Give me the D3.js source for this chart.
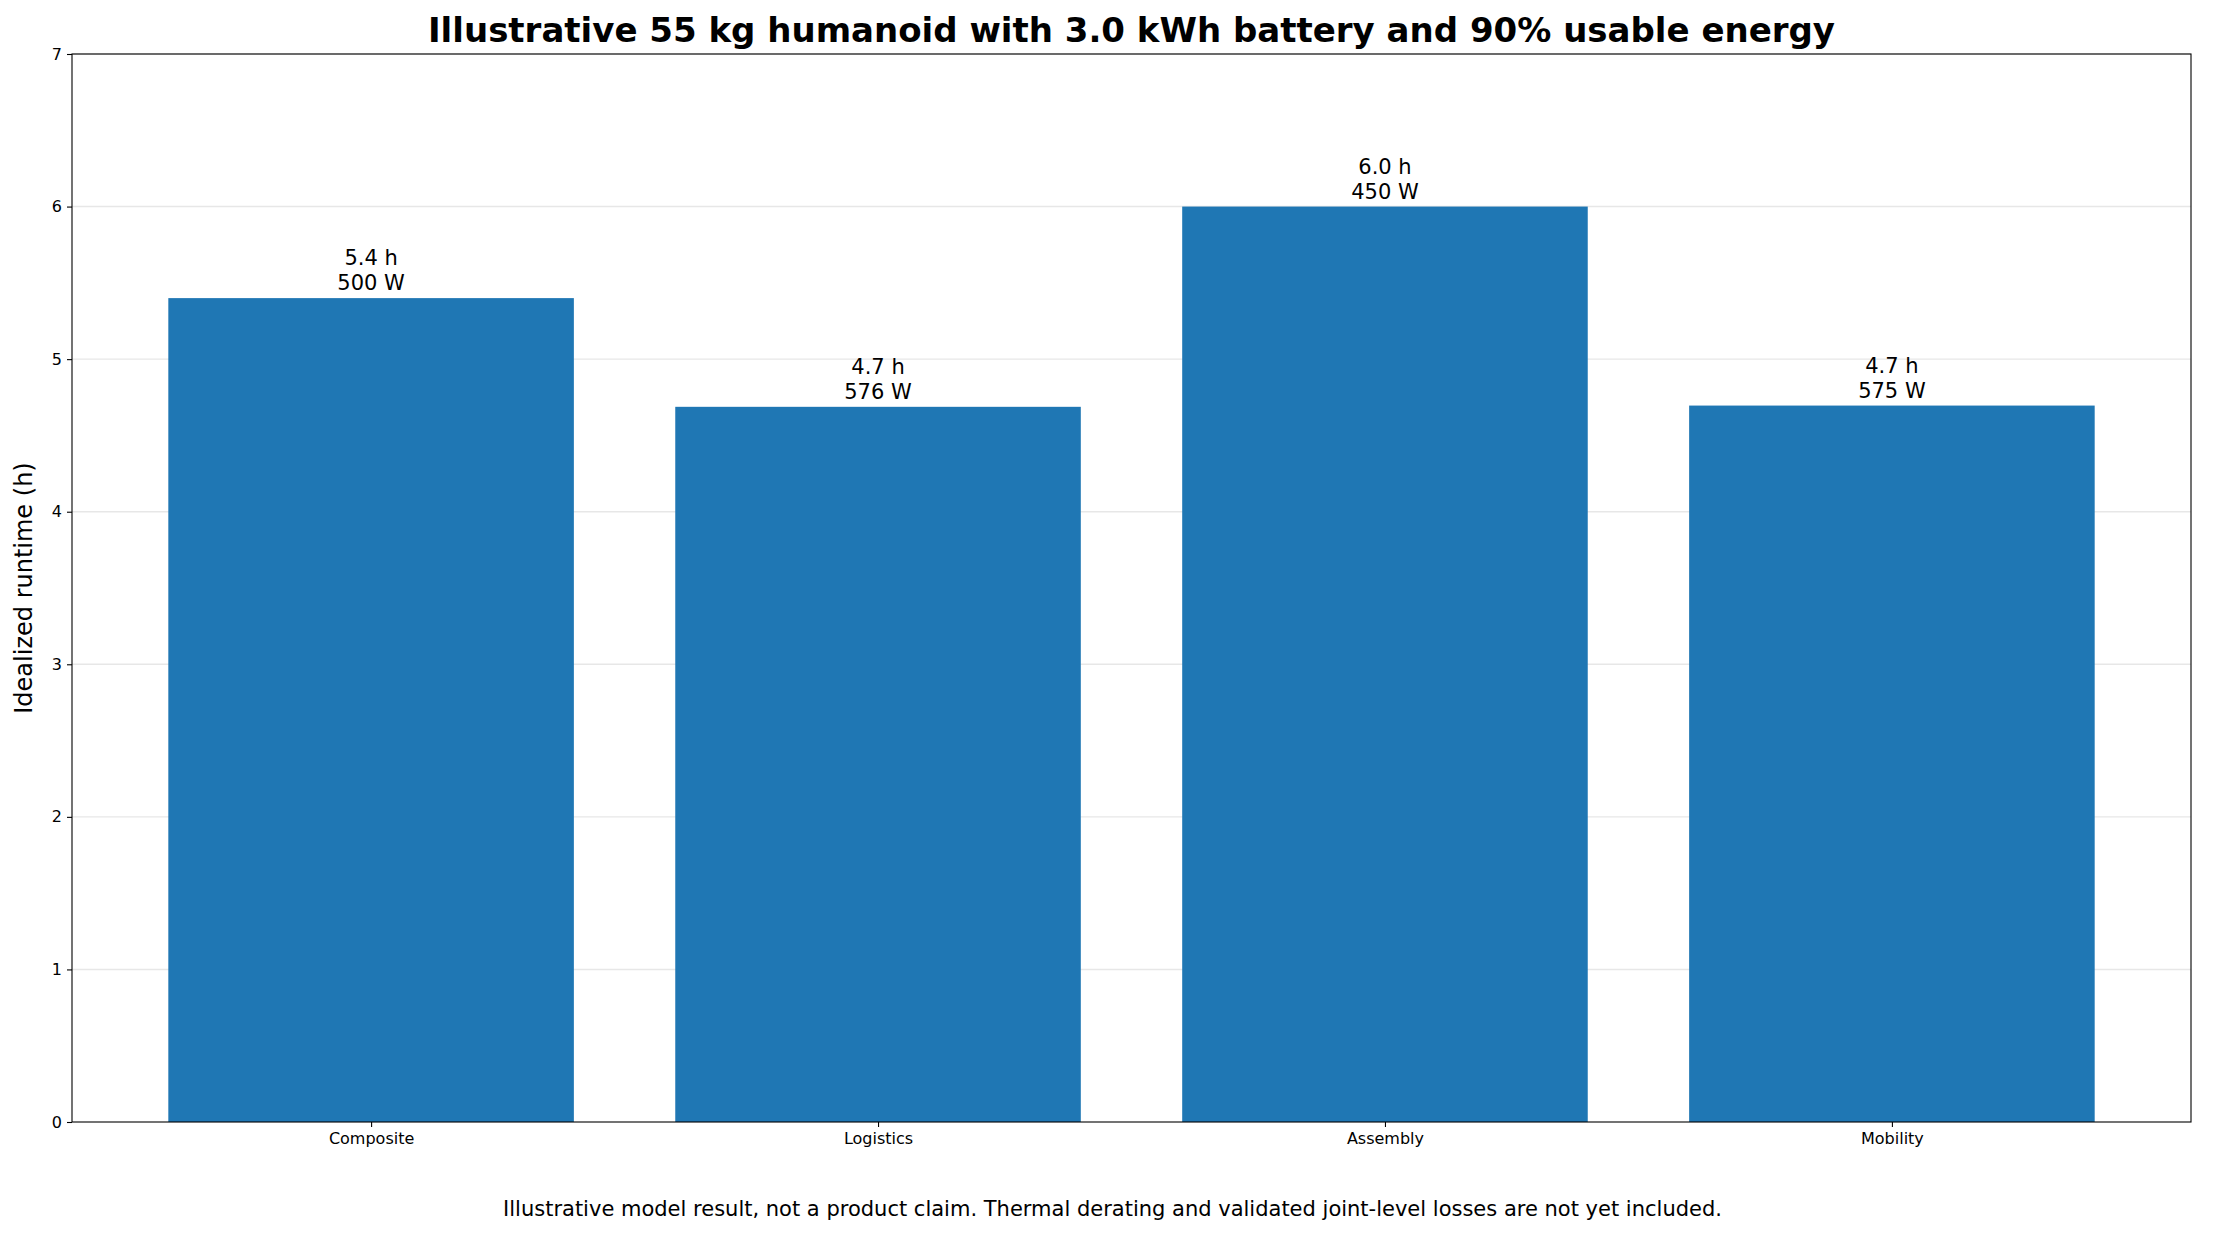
<!DOCTYPE html>
<html><head><meta charset="utf-8">
<script src="https://cdn.jsdelivr.net/npm/d3@7"></script>
<style>body{margin:0;background:#fff}svg{font-family:"DejaVu Sans",sans-serif}</style>
</head><body>
<svg id="c" width="2225" height="1235"></svg>
<script>
const categories = ["Composite","Logistics","Assembly","Mobility"];
const runtimes = [5.4, 4.6875, 6.0, 4.6957];
const powers = [500, 576, 450, 575];
const yTicks = [0,1,2,3,4,5,6,7];

const W=2225,H=1235,m={l:72,r:34,t:54,b:113};
const svg=d3.select("#c");
const x=d3.scaleLinear().domain([-0.59,3.59]).range([m.l,W-m.r]);
const y=d3.scaleLinear().domain([0,7]).range([H-m.b,m.t]);
const bw=x(0.4)-x(-0.4);

svg.append("g").selectAll("line").data(yTicks.slice(1)).join("line")
 .attr("x1",m.l).attr("x2",W-m.r).attr("y1",d=>y(d)).attr("y2",d=>y(d))
 .attr("stroke","#b0b0b0").attr("stroke-opacity",0.3).attr("stroke-width",1.4);

svg.append("g").selectAll("rect").data(runtimes).join("rect")
 .attr("x",(d,i)=>x(i)-bw/2).attr("width",bw).attr("y",d=>y(d)).attr("height",d=>y(0)-y(d))
 .attr("fill","#1f77b4");

const lab=svg.append("g").attr("font-size",21).attr("text-anchor","middle").attr("fill","#000");
runtimes.forEach((d,i)=>{
 lab.append("text").attr("x",x(i)).attr("y",y(d)-33).text(d.toFixed(1)+" h");
 lab.append("text").attr("x",x(i)).attr("y",y(d)-8).text(powers[i]+" W");
});

const ya=svg.append("g").attr("transform",`translate(${m.l},0)`)
 .call(d3.axisLeft(y).tickValues(yTicks).tickFormat(d3.format("d")).tickSize(5).tickPadding(5));
const xa=svg.append("g").attr("transform",`translate(0,${H-m.b})`)
 .call(d3.axisBottom(x).tickValues(d3.range(categories.length)).tickFormat(i=>categories[i]).tickSize(5).tickPadding(6));
[ya,xa].forEach(a=>{a.selectAll("text").attr("font-size",16).attr("font-family","DejaVu Sans").attr("fill","#000");
 a.selectAll("line").attr("stroke","#000").attr("stroke-width",1.1); a.select(".domain").remove();});

svg.append("rect").attr("x",m.l).attr("y",m.t).attr("width",W-m.r-m.l).attr("height",H-m.b-m.t)
 .attr("fill","none").attr("stroke","#000").attr("stroke-width",1.1);

svg.append("text").attr("x",(m.l+W-m.r)/2).attr("y",42).attr("text-anchor","middle")
 .attr("font-size",34).attr("font-weight","bold").text("Illustrative 55 kg humanoid with 3.0 kWh battery and 90% usable energy");
svg.append("text").attr("transform",`translate(32,${(m.t+H-m.b)/2}) rotate(-90)`).attr("text-anchor","middle")
 .attr("font-size",24).text("Idealized runtime (h)");
svg.append("text").attr("x",W/2).attr("y",1216).attr("text-anchor","middle").attr("font-size",21)
 .text("Illustrative model result, not a product claim. Thermal derating and validated joint-level losses are not yet included.");
</script></body></html>
